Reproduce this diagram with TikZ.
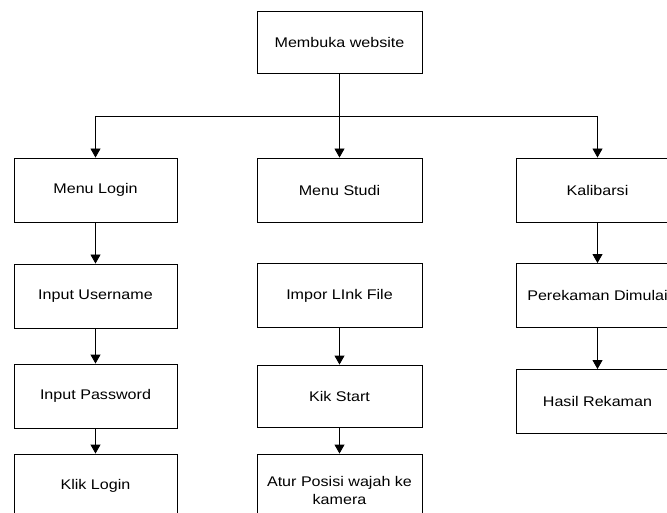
\documentclass[tikz,border=0pt]{standalone}
\usepackage{fontspec}
\setmainfont[FakeStretch=1.15]{Liberation Sans}
\usetikzlibrary{arrows.meta}
\begin{document}
\begin{tikzpicture}[x=1pt,y=-1pt,
  box/.style={draw, line width=0.9pt, minimum width=163pt, minimum height=64pt, align=center, inner sep=0pt, font=\fontsize{14}{18}\selectfont},
  arr/.style={-{Triangle[width=10pt,length=9pt]}, line width=0.9pt},
  plain/.style={line width=0.9pt}]
\useasboundingbox (0,0) rectangle (667,513);
\clip (0,0) rectangle (667,513);
\node[box, minimum width=165pt, minimum height=62pt] (web) at (339.5,42) {Membuka website};
\node[box] (login) at (95.5,190) {Menu Login};
\node[box, minimum width=165pt] (studi) at (339.5,190) {Menu Studi};
\node[box] (kal) at (597.5,190) {Kalibarsi};
\node[box] (user) at (95.5,296) {Input Username};
\node[box] (pass) at (95.5,396) {Input Password};
\node[box] (klik) at (95.5,486) {Klik Login};
\node[box, minimum width=165pt] (impor) at (339.5,295.5) {Impor LInk File};
\node[box, minimum width=165pt, minimum height=62pt] (kik) at (339.5,396) {Kik Start};
\node[box, minimum width=165pt, minimum height=72pt] (atur) at (339.5,490) {Atur Posisi wajah ke\\kamera};
\node[box] (rek) at (597.5,295.5) {Perekaman Dimulai};
\node[box] (hasil) at (597.5,401.5) {Hasil Rekaman};
\coordinate (hl) at (95.5,116);
\coordinate (hr) at (597.5,116);
\draw[plain] (hl) -- (hr);
\draw[arr] (hl) -- (login);
\draw[arr] (hr) -- (kal);
\draw[arr] (web) -- (studi);
\draw[arr] (login) -- (user);
\draw[arr] (user) -- (pass);
\draw[arr] (pass) -- (klik);
\draw[arr] (impor) -- (kik);
\draw[arr] (kik) -- (atur);
\draw[arr] (kal) -- (rek);
\draw[arr] (rek) -- (hasil);
\end{tikzpicture}
\end{document}
